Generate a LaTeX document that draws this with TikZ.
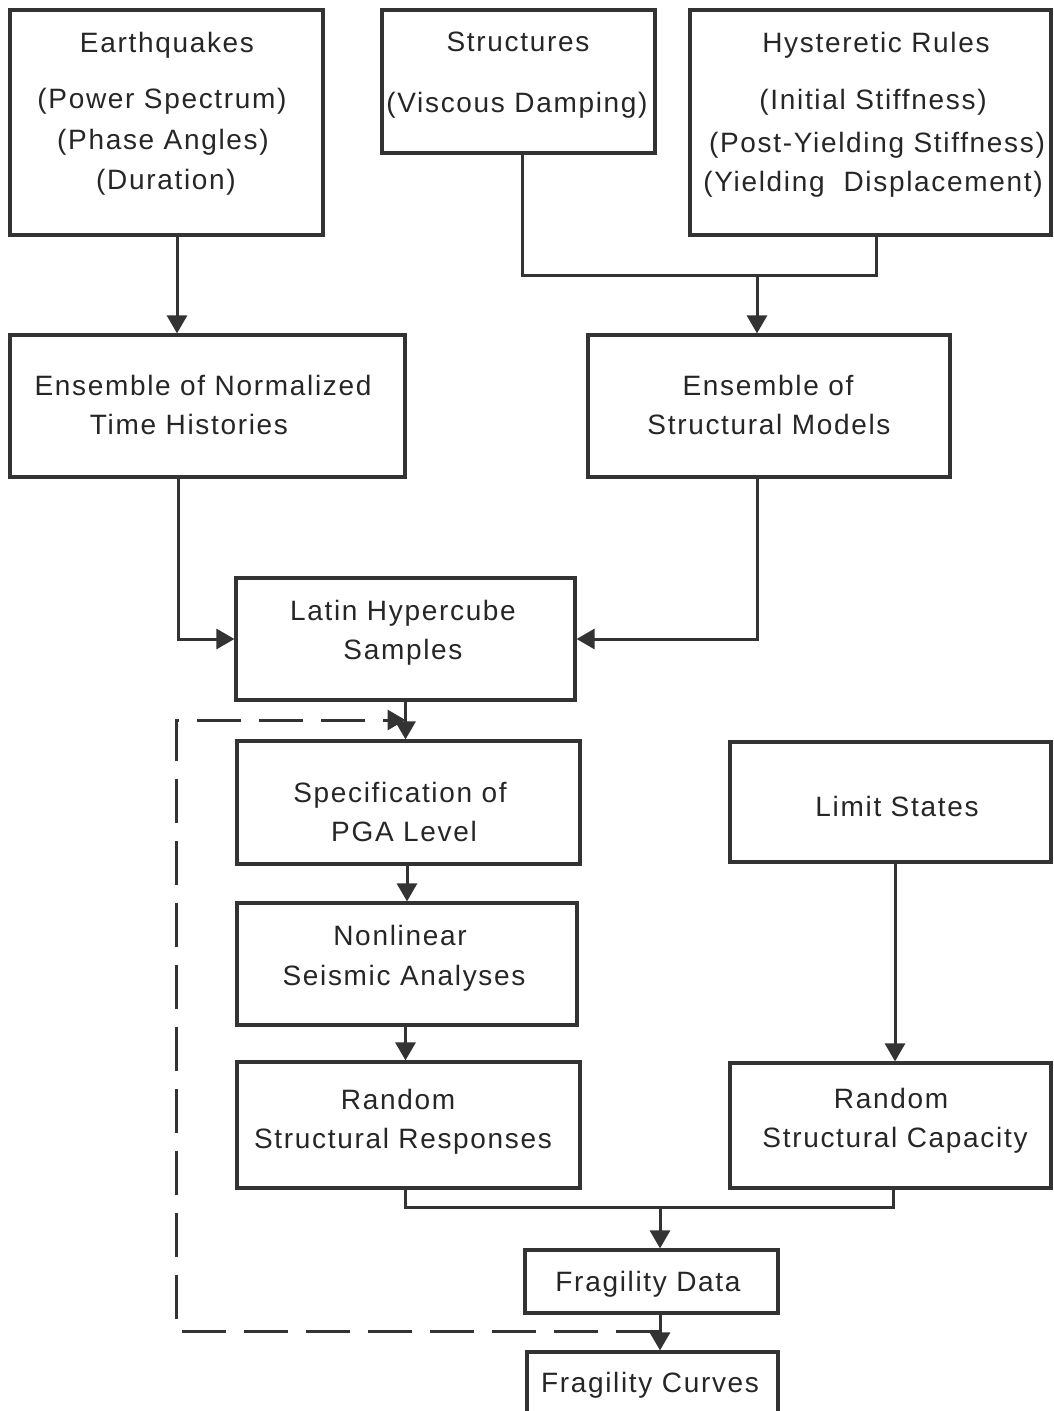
\documentclass[tikz,border=0pt]{standalone}
\usepackage{fontspec}
\setmainfont{Liberation Sans}[LetterSpace=6]
\usetikzlibrary{fit,arrows.meta}
\begin{document}
\begin{tikzpicture}[x=0.5pt,y=-0.5pt,
  box/.style={draw=black!80, line width=1.6pt, inner sep=0pt},
  ln/.style={draw=black!80, line width=1.5pt},
  arr/.style={ln, -{Triangle[length=9pt,width=10pt]}},
  dsh/.style={ln, dash pattern=on 22pt off 9pt, -{Triangle[length=9pt,width=10pt]}},
  txt/.style={font=\fontsize{14}{17}\selectfont, text height=10pt, text depth=0pt, inner sep=0pt, text=black!85}]
\clip (0,0) rectangle (1053,1411);
\fill[white] (0,0) rectangle (1053,1411);
% boxes
\node[box, fit={(10,10)(323,235)}] (eq) {};
\node[box, fit={(382,10)(655,153)}] (st) {};
\node[box, fit={(690,10)(1051,235)}] (hy) {};
\node[box, fit={(10,335)(405,477)}] (ens1) {};
\node[box, fit={(588,335)(950,477)}] (ensm) {};
\node[box, fit={(236,578)(575,700)}] (lhs) {};
\node[box, fit={(237,741)(580,864)}] (spec) {};
\node[box, fit={(237,903)(577,1025)}] (nl) {};
\node[box, fit={(237,1062)(580,1188)}] (rr) {};
\node[box, fit={(730,742)(1051,862)}] (ls) {};
\node[box, fit={(730,1063)(1051,1188)}] (rc) {};
\node[box, fit={(525,1250)(778,1313)}] (fd) {};
\node[box, fit={(527,1352)(778,1440)}] (fc) {};
% texts
\node[txt] (t1) at (167,43) {Earthquakes};
\node[txt] (t2) at (162,99) {(Power Spectrum)};
\node[txt] (t3) at (163,140) {(Phase Angles)};
\node[txt] (t4) at (166,180) {(Duration)};
\node[txt] (t5) at (518,42) {Structures};
\node[txt] (t6) at (517,103) {(Viscous Damping)};
\node[txt] (t7) at (876,43) {Hysteretic Rules};
\node[txt] (t8) at (873,100) {(Initial Stiffness)};
\node[txt] (t9) at (877,143) {(Post-Yielding Stiffness)};
\node[txt] (t10) at (873,182) {(Yielding\ \ Displacement)};
\node[txt] (t11) at (203,386) {Ensemble of Normalized};
\node[txt] (t12) at (189,425) {Time Histories};
\node[txt] (t13) at (768,386) {Ensemble of};
\node[txt] (t14) at (769,425) {Structural Models};
\node[txt] (t15) at (403,610) {Latin Hypercube};
\node[txt] (t16) at (403,649) {Samples};
\node[txt] (t17) at (400,792) {Specification of};
\node[txt] (t18) at (404,831) {PGA Level};
\node[txt] (t19) at (400,935) {Nonlinear};
\node[txt] (t20) at (404,975) {Seismic Analyses};
\node[txt] (t21) at (398,1099) {Random};
\node[txt] (t22) at (403,1138) {Structural Responses};
\node[txt] (t23) at (897,806) {Limit States};
\node[txt] (t24) at (891,1098) {Random};
\node[txt] (t25) at (895,1137) {Structural Capacity};
\node[txt] (t26) at (648,1281) {Fragility Data};
\node[txt] (t27) at (650,1382) {Fragility Curves};
% connectors
\draw[arr] ([xshift=5.25pt]eq.south) -- ([xshift=5.25pt]eq.south |- ens1.north);
\coordinate (j1) at (757,276);
\draw[ln] ([xshift=1.75pt]st.south) |- (j1) -| ([xshift=2.75pt]hy.south);
\draw[arr] (j1) -- (j1 |- ensm.north);
\draw[arr] ([xshift=-14.75pt]ens1.south) |- (lhs.west);
\draw[arr] ([xshift=-6pt]ensm.south) |- (lhs.east);
\draw[arr] (lhs.south) -- (lhs.south |- spec.north);
\draw[arr] (spec.south -| nl.north) -- (nl.north);
\draw[arr] (nl.south -| lhs.south) -- (rr.north -| lhs.south);
\draw[arr] ([xshift=2.25pt]ls.south) -- ([xshift=2.25pt]ls.south |- rc.north);
\coordinate (j2) at (660,1207);
\draw[ln] (rr.south -| lhs.south) |- (j2) -| ([xshift=1.25pt]rc.south);
\draw[arr] (j2) -- (j2 |- fd.north);
\draw[arr] (fd.south -| j2) -- (fc.north -| j2);
\coordinate (j3) at (660,1331);
\coordinate (d2) at (176,720);
\draw[dsh] (j3) -| (d2) -- (d2 -| lhs.south);
\end{tikzpicture}
\end{document}
